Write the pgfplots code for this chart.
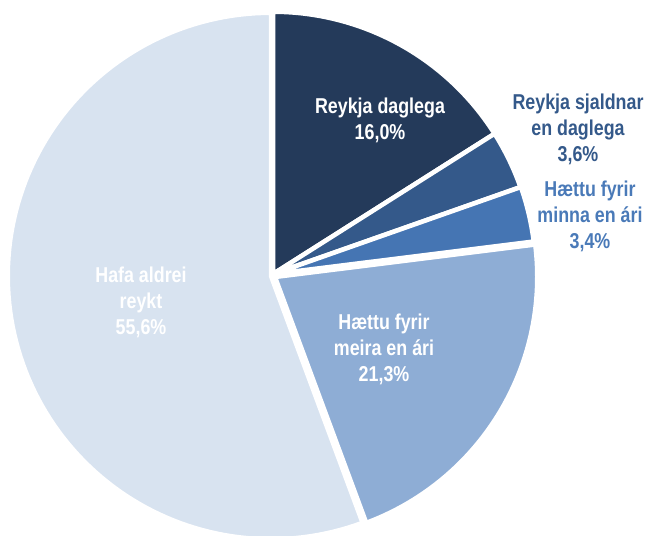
\documentclass[border=0pt]{standalone}
\usepackage{pgfplots}
\pgfplotsset{compat=1.18}
\usepackage{fontspec}
\setmainfont{Liberation Sans}
\newfontfamily\lab[FakeStretch=0.83]{Liberation Sans}
\definecolor{cA}{HTML}{243A5A}
\definecolor{cB}{HTML}{34598A}
\definecolor{cC}{HTML}{4575B3}
\definecolor{cD}{HTML}{8EADD5}
\definecolor{cE}{HTML}{D8E3F0}
\definecolor{tB}{HTML}{34598A}
\definecolor{tC}{HTML}{4A7AB8}
% shares (percent)
\def\vA{16.0}\def\vB{3.6}\def\vC{3.4}\def\vD{21.3}\def\vE{55.6}
\pgfmathsetmacro\tot{\vA+\vB+\vC+\vD+\vE}
\pgfmathsetmacro\kk{360/\tot}
\pgfmathsetmacro\aO{90}
\pgfmathsetmacro\aA{\aO-\kk*\vA}
\pgfmathsetmacro\aB{\aA-\kk*\vB}
\pgfmathsetmacro\aC{\aB-\kk*\vC}
\pgfmathsetmacro\aD{\aC-\kk*\vD}
\pgfmathsetmacro\aE{\aD-\kk*\vE}
% color, cx, cy, r, start angle, end angle (end < start)
\newcommand{\pieslice}[6]{%
  \addplot[fill=#1, draw=white, line width=4.5bp, line join=round,
    domain=#6:#5, samples=120, variable=\t]
    ({#2+#4*cos(\t)},{#3-#4*sin(\t)}) -- (axis cs:#2,#3) -- cycle;
}
\begin{document}
\begin{tikzpicture}
\begin{axis}[
  scale only axis, width=648bp, height=536bp,
  xmin=0, xmax=648, ymin=0, ymax=536, y dir=reverse,
  hide axis, clip=true,
]
\addplot[draw=none] coordinates {(0,0) (648,536)};
\pieslice{cA}{273}{274}{262.25}{\aO}{\aA}
\pieslice{cB}{273}{274}{262.25}{\aA}{\aB}
\pieslice{cC}{273.5}{274}{262.25}{\aB}{\aC}
\pieslice{cD}{275}{277}{262.25}{\aC}{\aD}
\pieslice{cE}{271}{276}{263.25}{\aD}{\aE}
\begin{scope}[every node/.style={align=center, inner sep=0pt,
   font=\lab\bfseries\fontsize{21.5bp}{26bp}\selectfont}]
\node[white] at (axis cs:380,120) {Reykja daglega\\16,0\%};
\node[text=tB] at (axis cs:578,129) {Reykja sjaldnar\\en daglega\\3,6\%};
\node[text=tC] at (axis cs:590,216) {H\ae ttu fyrir\\minna en \'ari\\3,4\%};
\node[white] at (axis cs:384,349) {H\ae ttu fyrir\\meira en \'ari\\21,3\%};
\node[white] at (axis cs:141,302) {Hafa aldrei\\reykt\\55,6\%};
\end{scope}
\end{axis}
\end{tikzpicture}
\end{document}
